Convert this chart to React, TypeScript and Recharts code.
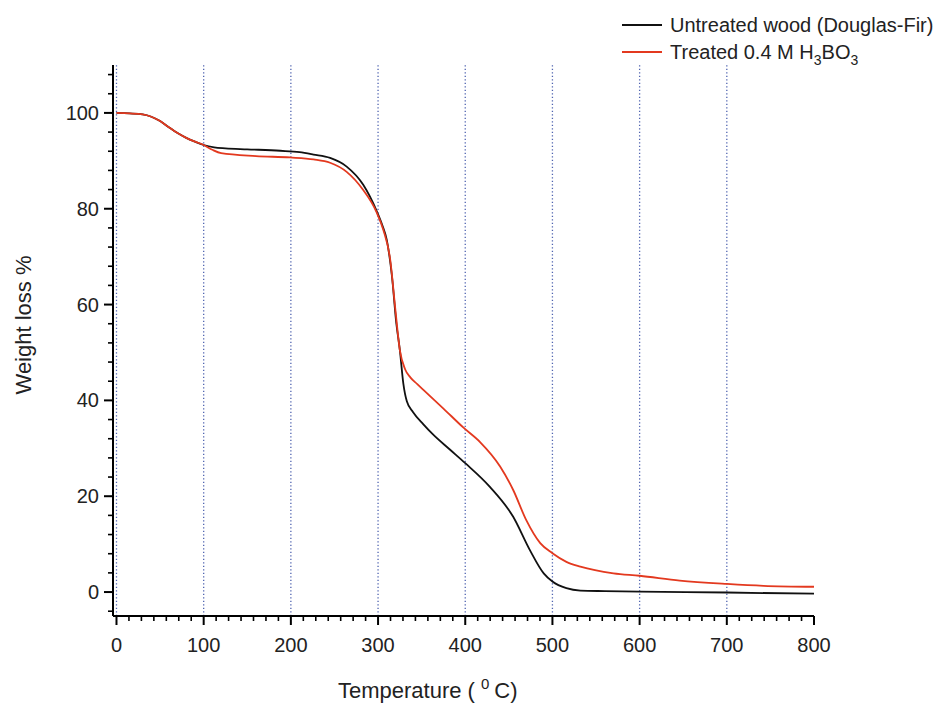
import React from "react";
import { LineChart, Line, XAxis, YAxis, ReferenceLine } from "recharts";

// Untreated wood (Douglas-Fir)
const untreatedTemp = [0, 15, 30, 40, 50, 60, 70, 80, 90, 100, 112, 125, 150, 188, 210, 226, 245, 264, 283, 298, 305, 310, 316, 321, 325, 329, 333, 340, 352, 363, 382, 400, 428, 455, 474, 490, 500, 516, 532, 560, 600, 700, 800];
const untreatedWeight = [100.0, 99.9, 99.7, 99.2, 98.3, 97.0, 95.8, 94.8, 94.0, 93.3, 92.8, 92.6, 92.4, 92.1, 91.8, 91.3, 90.6, 88.8, 85.0, 79.7, 76.5, 73.5, 65.8, 56.0, 50.5, 43.5, 39.8, 37.6, 35.0, 32.9, 29.8, 26.9, 22.0, 15.7, 8.8, 3.9, 2.2, 0.8, 0.3, 0.2, 0.1, -0.1, -0.35];

// Treated 0.4 M H3BO3
const treatedTemp = [0, 15, 30, 40, 50, 60, 70, 80, 90, 100, 110, 120, 160, 199, 226, 245, 264, 283, 298, 306, 314, 319.5, 325, 331, 337, 345, 352, 375, 398, 417, 440, 455, 470, 486, 500, 516, 532, 570, 600, 646, 700, 742, 800];
const treatedWeight = [100.0, 99.9, 99.7, 99.2, 98.3, 97.0, 95.8, 94.8, 94.0, 93.3, 92.3, 91.6, 91.0, 90.7, 90.3, 89.6, 87.7, 83.9, 79.4, 75.6, 69.3, 59.6, 50.5, 46.5, 44.8, 43.4, 42.2, 38.3, 34.3, 31.3, 26.2, 21.3, 15.0, 10.2, 8.1, 6.3, 5.3, 3.9, 3.4, 2.4, 1.7, 1.3, 1.1];

const xMajorTicks = [0, 100, 200, 300, 400, 500, 600, 700, 800];
const xGridLines = [0, 100, 200, 300, 400, 500, 600, 700];
const yMajorTicks = [0, 20, 40, 60, 80, 100];

const untreatedData = untreatedTemp.map((t, i) => ({ t, w: untreatedWeight[i] }));
const treatedData = treatedTemp.map((t, i) => ({ t, w: treatedWeight[i] }));

// axis tick positions: majors every 100 with 6 minors between; y every 4
const xTicks: number[] = [];
for (let k = 0; k < 8; k++) {
  for (let j = 0; j < 7; j++) xTicks.push(k * 100 + (j * 100) / 7);
}
xTicks.push(800);
const yTicks: number[] = [];
for (let v = -4; v <= 108; v += 4) yTicks.push(v);

const FONT = "'Liberation Sans', Arial, sans-serif";

const isMajorX = (v: number) => xMajorTicks.some((m) => Math.abs(m - v) < 1e-6);
const isMajorY = (v: number) => yMajorTicks.includes(v);

const XTick = (props: any) => {
  const { x, y, payload } = props;
  const v = payload.value;
  const major = isMajorX(v);
  return (
    <g>
      <line x1={x} x2={x} y1={y} y2={y + (major ? 9 : 5)} stroke="#000" strokeWidth={major ? 2 : 1.6} />
      {major && (
        <text x={x} y={y + 36} textAnchor="middle" fontSize={20} fontFamily={FONT} fill="#222">
          {Math.round(v)}
        </text>
      )}
    </g>
  );
};

const YTick = (props: any) => {
  const { x, y, payload } = props;
  const v = payload.value;
  const major = isMajorY(v);
  return (
    <g>
      <line x1={x - (major ? 9 : 5)} x2={x} y1={y} y2={y} stroke="#000" strokeWidth={major ? 2 : 1.6} />
      {major && (
        <text x={x - 14} y={y + 7} textAnchor="end" fontSize={20} fontFamily={FONT} fill="#222">
          {v}
        </text>
      )}
    </g>
  );
};

const XTitle = () => (
  <text x={338} y={698} fontSize={22} fontFamily={FONT} fill="#222">
    Temperature (
    <tspan dx={6} dy={-9} fontSize={15}>0</tspan>
    <tspan dx={5} dy={9}>C)</tspan>
  </text>
);

const YTitle = () => (
  <text
    x={31}
    y={325}
    fontSize={22}
    fontFamily={FONT}
    fill="#222"
    textAnchor="middle"
    transform="rotate(-90, 31, 325)"
  >
    Weight loss %
  </text>
);

const RED = "#e3391f";

export default function App() {
  return (
    <div style={{ position: "absolute", left: 0, top: 0, width: 942, height: 706, background: "#fff" }}>
      <LineChart width={942} height={706} margin={{ top: 65, right: 128, bottom: 50, left: 53 }}>
        {xGridLines.map((g) => (
          <ReferenceLine key={g} x={g} stroke="#4f63b0" strokeDasharray="1.3 2.2" strokeWidth={1.3} />
        ))}
        <XAxis
          dataKey="t"
          type="number"
          domain={[-4, 800]}
          allowDataOverflow
          ticks={xTicks}
          interval={0}
          tickSize={0}
          tickMargin={0}
          tickLine={false}
          tick={<XTick />}
          height={40}
          axisLine={{ stroke: "#000", strokeWidth: 2 }}
          label={{ content: () => <XTitle /> }}
        />
        <YAxis
          dataKey="w"
          type="number"
          domain={[-5, 110]}
          allowDataOverflow
          ticks={yTicks}
          interval={0}
          tickSize={0}
          tickMargin={0}
          tickLine={false}
          tick={<YTick />}
          width={60}
          axisLine={{ stroke: "#000", strokeWidth: 2 }}
          label={{ content: () => <YTitle /> }}
        />
        <Line
          data={untreatedData}
          dataKey="w"
          type="monotone"
          stroke="#111"
          strokeWidth={1.8}
          dot={false}
          isAnimationActive={false}
          name="Untreated wood (Douglas-Fir)"
        />
        <Line
          data={treatedData}
          dataKey="w"
          type="monotone"
          stroke={RED}
          strokeWidth={1.8}
          dot={false}
          isAnimationActive={false}
          name="Treated 0.4 M H3BO3"
        />
      </LineChart>
      <svg width={942} height={70} style={{ position: "absolute", left: 0, top: 0 }}>
        <line x1={622} x2={662} y1={25} y2={25} stroke="#111" strokeWidth={1.8} />
        <text x={670} y={32} fontSize={20} fontFamily={FONT} fill="#222">
          Untreated wood (Douglas-Fir)
        </text>
        <line x1={622} x2={662} y1={52} y2={52} stroke={RED} strokeWidth={1.8} />
        <text x={670} y={59} fontSize={20} fontFamily={FONT} fill="#222">
          Treated 0.4 M H
          <tspan dy={6} fontSize={14}>3</tspan>
          <tspan dy={-6}>BO</tspan>
          <tspan dy={6} fontSize={14}>3</tspan>
        </text>
      </svg>
    </div>
  );
}
